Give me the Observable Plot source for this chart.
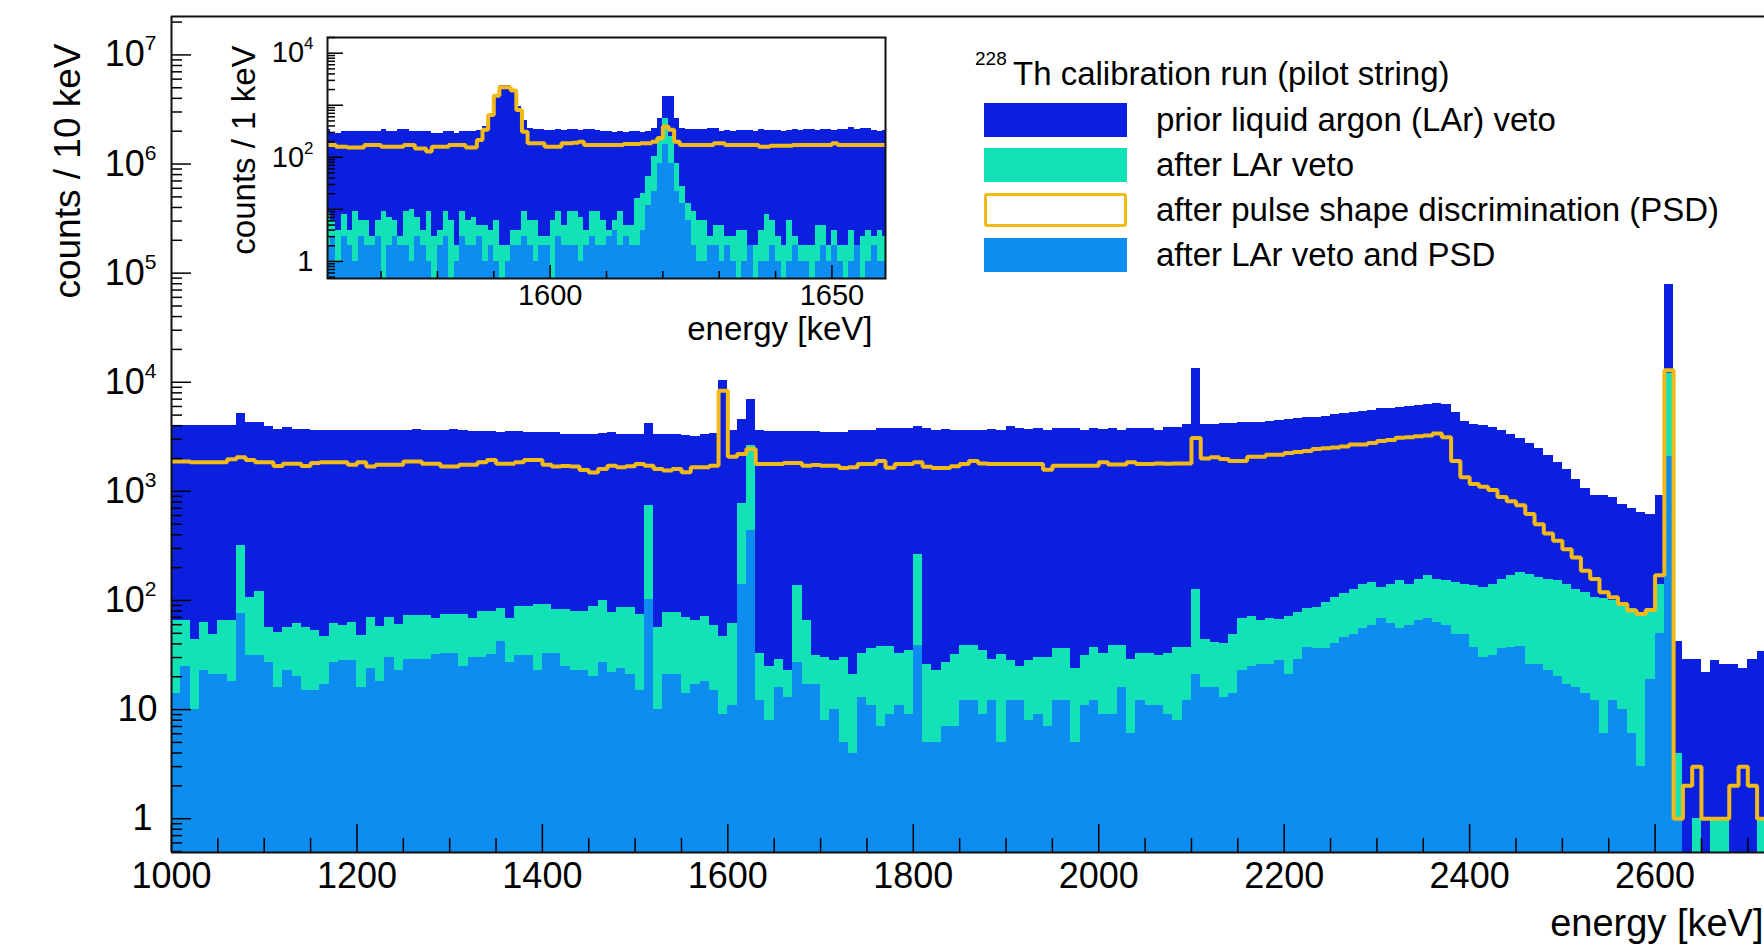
<!DOCTYPE html>
<html><head><meta charset="utf-8">
<script src="https://cdn.jsdelivr.net/npm/d3@7"></script>
<script src="https://cdn.jsdelivr.net/npm/@observablehq/plot@0.6"></script>
<style>
html,body{margin:0;padding:0;background:#fff;}
#wrap{position:relative;width:1764px;height:948px;overflow:hidden;font-family:"Liberation Sans",Arial,Helvetica,sans-serif;color:#000;}
#main,#inset,#legend{position:absolute;top:0;}
#main{left:0;}
#inset{left:200px;}
#legend{left:0;}
.sw{position:absolute;left:984px;width:143px;height:34px;box-sizing:border-box;}
.lab{position:absolute;left:1156px;font-size:33px;line-height:34px;white-space:nowrap;}
</style></head>
<body><div id="wrap"><div id="main"></div><div id="inset"></div><div id="legend"></div></div>
<script>
// ---------------- data: main spectrum, 10 keV bins starting at 1000 keV ----------------
const mainStart = 1000, mainBinWidth = 10;
const mainPrior = [
4000,4050,3980,4020,3990,4010,4000,5150,4300,4250,
3900,3720,3850,3720,3700,3580,3600,3580,3600,3580,
3590,3580,3600,3580,3600,3580,3720,3640,3650,3640,
3700,3600,3520,3530,3520,3500,3520,3510,3500,3480,
3440,3450,3350,3340,3330,3340,3420,3450,3300,3300,
3300,4150,3300,3300,3300,3250,3170,3330,3400,10350,
3600,4520,6900,3600,3530,3540,3520,3530,3530,3520,
3470,3500,3470,3650,3650,3650,3740,3740,3740,3740,
3930,3740,3650,3660,3640,3650,3650,3640,3660,3650,
3920,3730,3720,3730,3600,3730,3740,3730,3600,3730,
3720,3740,3600,3730,3740,3730,3600,3810,3820,4090,
13300,4100,4120,4150,4200,4250,4300,4300,4350,4500,
4550,4700,4790,4790,4900,5100,5160,5300,5450,5500,
5700,5800,5850,5950,6100,6200,6400,6200,5270,4360,
4100,4050,3850,3620,3350,3080,2750,2450,2140,1850,
1570,1290,1070,920,910,870,765,695,640,615,
920,78000,42,29,29,22,28,26,26,24,
29,34];
const mainPSD = [
1875,1875,1850,1850,1850,1850,1970,2050,1940,1850,
1850,1710,1790,1790,1710,1820,1850,1850,1850,1750,
1850,1690,1750,1750,1750,1875,1875,1790,1790,1690,
1690,1750,1750,1850,1940,1790,1790,1850,1940,1940,
1750,1690,1710,1690,1570,1490,1600,1720,1660,1700,
1780,1720,1600,1550,1600,1500,1660,1660,1720,8380,
2080,2200,2450,1780,1780,1780,1820,1820,1720,1740,
1720,1720,1640,1660,1780,1780,1900,1650,1780,1780,
1850,1680,1640,1640,1700,1780,1900,1800,1780,1780,
1780,1780,1780,1780,1580,1720,1720,1720,1720,1720,
1850,1760,1760,1850,1780,1780,1800,1790,1800,1800,
3090,2000,2050,1980,1900,1900,2080,2080,2170,2170,
2250,2300,2350,2440,2480,2520,2580,2690,2690,2780,
2900,2950,3100,3130,3200,3250,3390,3130,1900,1350,
1170,1100,1030,890,810,745,620,500,410,353,
295,248,187,157,119,107,93,81,75,82,
170,12900,1,2,3,1,1,1,2,3,
2,1];
const mainLAr = [
66,66,44,63,49,66,65,320,107,120,
56,51,56,61,56,53,47,61,59,63,
48,70,58,70,60,73,73,73,69,75,
75,74,69,79,79,85,69,88,88,91,
91,83,83,80,80,88,100,78,87,87,
75,740,57,78,78,70,65,71,59,47,
62,767,2630,33,25,29,23,137,65,31,
30,28,30,21,33,36,38,38,33,35,
265,26,23,27,32,39,39,35,29,32,
28,25,28,30,30,36,36,24,31,37,
33,39,39,29,33,33,31,33,37,37,
125,44,41,40,49,69,72,65,69,67,
72,78,84,87,96,107,116,127,141,146,
131,141,151,141,157,169,157,151,146,141,
137,132,140,157,169,181,173,163,157,151,
141,127,119,107,104,100,93,84,78,78,
140,12000,4,0,1,0,1,1,0,0,
0,1];
const mainBoth = [
14,25,10,23,21,21,18,76,31,31,
27,16,23,20,15,15,17,27,28,28,
16,24,18,30,23,29,29,29,32,33,
33,25,30,30,32,42,27,31,31,23,
33,33,25,23,23,20,27,22,24,21,
15,103,10,21,21,14,17,18,15,9,
11,141,437,12,8,16,13,27,17,17,
8,10,5,4,13,11,7,9,11,9,
39,5,5,7,7,12,12,9,12,5,
12,12,8,9,7,12,12,5,11,12,
9,9,16,6,12,11,11,9,8,12,
21,16,16,13,14,23,25,26,26,28,
21,29,37,36,36,40,46,49,55,59,
68,61,55,59,65,68,63,59,49,49,
37,30,31,36,37,38,26,26,23,20,
17,16,14,12,6,12,10,6,3,19,
50,2100,1,0,0,0,0,0,0,0,
0,0];

// ---------------- data: inset, 1 keV bins starting at 1560 keV ----------------
const insetStart = 1560, insetBinWidth = 1;
const insetPrior = [
345,290,290,310,310,310,310,310,310,310,
345,310,310,345,345,310,310,310,310,290,
290,310,310,290,310,310,310,330,390,700,
1600,2360,2360,1960,940,520,360,340,345,330,
330,345,330,345,345,330,345,345,330,310,
310,300,310,300,310,310,300,310,360,565,
1470,1470,565,360,335,335,335,335,360,360,
320,326,320,326,330,326,320,335,326,330,
326,320,326,335,330,335,335,330,335,335,
330,335,335,372,335,360,360,326,320,326];
const insetPSD = [
173,173,160,160,155,155,155,173,173,173,
160,160,160,160,173,173,148,148,129,160,
160,160,173,173,173,155,155,216,340,650,
1520,2220,2220,1920,810,310,186,186,186,160,
160,160,186,186,190,200,173,173,173,173,
173,173,173,180,180,180,186,186,200,232,
390,340,200,173,173,173,173,173,173,186,
186,173,173,173,173,173,173,160,160,166,
166,166,166,173,173,173,173,173,173,173,
186,173,173,173,173,173,173,173,173,173];
const insetLAr = [
9,6,4,8,4,9,6,6,3,6,
9,7,6,3,9,10,7,4,9,3,
4,9,6,2,9,6,7,5,5,4,
6,2,2,4,4,9,6,6,3,3,
6,9,5,9,9,7,4,9,9,6,
4,6,9,5,5,16,20,43,103,250,
565,250,76,27,13,9,6,6,3,5,
5,3,3,4,4,2,2,4,8,6,
3,2,6,3,2,2,2,5,5,2,
4,2,2,4,2,3,4,3,4,3];
const insetBoth = [
2,3,1,3,2,1,3,2,2,3,
0,2,3,2,2,1,3,2,1,0,
2,3,0,1,3,2,2,3,1,2,
1,0,1,2,2,3,2,1,2,2,
0,3,2,2,2,1,2,3,2,2,
3,4,2,3,2,2,4,12,22,76,
173,76,22,13,6,2,1,1,2,2,
1,2,1,0,1,2,0,1,1,2,
1,0,1,2,1,1,0,1,2,1,
2,1,0,1,2,0,1,2,1,1];

// ---------------- ticks & labels ----------------
const xTicksMain = [1000,1200,1400,1600,1800,2000,2200,2400,2600];
const yTicksMain = [1,10,100,1000,10000,100000,1000000,10000000];
const xTicksInset = [1600,1650];
const yTicksInset = [1,100,10000];
const yDecadesInset = [1,10,100,1000,10000];
const legendHeader = ["228", "Th calibration run (pilot string)"];
const legendLabels = ["prior liquid argon (LAr) veto","after LAr veto","after pulse shape discrimination (PSD)","after LAr veto and PSD"];
const C = {prior:"#0b20df", lar:"#12e2b6", both:"#0d8def", psd:"#f2ba18"};
const FONT = '"Liberation Sans", Arial, Helvetica, sans-serif';

function rowsOf(start, w, prior, lar, psd, both) {
  return prior.map((v,i) => ({x1: start + i*w, x2: start + (i+1)*w, prior: v, lar: lar[i], psd: psd[i], both: both[i]}));
}
function histMarks(rows, base, clip) {
  const last = rows[rows.length-1];
  const pts = rows.map(d => ({x: d.x1, v: d.psd})).concat([{x: last.x2, v: last.psd}]);
  const common = {x1:"x1", x2:"x2", y1: base, shapeRendering:"crispEdges", clip};
  return [
    Plot.rectY(rows, {...common, filter: d => d.prior > 0, y2: "prior", fill: C.prior}),
    Plot.rectY(rows, {...common, filter: d => d.lar > 0, y2: "lar", fill: C.lar}),
    Plot.rectY(rows, {...common, filter: d => d.both > 0, y2: "both", fill: C.both}),
    Plot.line(pts, {x:"x", y:"v", curve:"step-after", stroke: C.psd, strokeWidth: 4, strokeLinejoin:"miter", strokeLinecap:"butt", clip})
  ];
}
const supFmt = d => { const e = Math.round(Math.log10(d)); return e === 0 ? "1" : e === 1 ? "10" : "10^" + e; };
function minorLog(domain) {
  const out = [];
  for (let k = -2; k <= 8; k++) for (let m = 2; m <= 9; m++) { const v = m * Math.pow(10, k); if (v >= domain[0] && v <= domain[1]) out.push(v); }
  return out;
}
function supify(svg, supSize, supDy, shifts) {
  d3.select(svg).selectAll("text").each(function() {
    const t = this.textContent;
    if (/^10\^\d+$/.test(t)) {
      const [b, e] = t.split("^");
      const s = d3.select(this); s.text(null);
      s.append("tspan").text(b);
      s.append("tspan").attr("dy", supDy).attr("font-size", supSize).text(e);
    } else if (shifts && shifts[t] !== undefined && this.closest('[aria-label="y-axis tick label"]')) {
      d3.select(this).attr("dx", shifts[t]);
    }
  });
}

// ---------------- main plot ----------------
const yMainDomain = [0.49, 2.25e7];
const mainRows = rowsOf(mainStart, mainBinWidth, mainPrior, mainLAr, mainPSD, mainBoth);
const xMinorMain = d3.range(1050, 2718, 50).filter(v => v % 200 !== 0);
const mainPlot = Plot.plot({
  width: 1764, height: 948, marginLeft: 171, marginRight: 0, marginTop: 16, marginBottom: 96,
  style: {fontFamily: FONT, background: "transparent", color: "#000"},
  x: {domain: [1000, 2718]},
  y: {type: "log", domain: yMainDomain},
  marks: [
    ...histMarks(mainRows, yMainDomain[0], false),
    Plot.axisY({ticks: yTicksMain, tickSize: 20, dx: 20, tickPadding: 15, tickFormat: supFmt, fontSize: 36, label: null, strokeWidth: 1.5}),
    Plot.axisY({ticks: minorLog(yMainDomain), tickSize: 11, dx: 11, tickFormat: () => "", label: null, strokeWidth: 1.5}),
    Plot.axisX({ticks: xTicksMain, tickSize: 28, dy: -28, tickPadding: 10, tickFormat: d3.format("d"), fontSize: 36, label: null, strokeWidth: 1.5}),
    Plot.axisX({ticks: xMinorMain, tickSize: 14, dy: -14, tickFormat: () => "", label: null, strokeWidth: 1.5}),
    Plot.ruleX([1000], {stroke: "#111", strokeWidth: 2}),
    Plot.ruleY(yMainDomain, {stroke: "#111", strokeWidth: 2}),
    Plot.text(["counts / 10 keV"], {text: d => d, frameAnchor: "top-left", rotate: -90, textAnchor: "end", lineAnchor: "middle", dx: -103, dy: 27, fontSize: 37}),
    Plot.text(["energy [keV]"], {text: d => d, frameAnchor: "bottom-right", textAnchor: "end", lineAnchor: "middle", dx: -1, dy: 71, fontSize: 38})
  ]
});
supify(mainPlot, "21px", "-16", {"1": -4, "10": 1});
document.getElementById("main").appendChild(mainPlot);

// ---------------- inset ----------------
const yInsetDomain = [0.47, 2e4];
const insetRows = rowsOf(insetStart, insetBinWidth, insetPrior, insetLAr, insetPSD, insetBoth);
const xMinorInset = d3.range(1570, 1660, 10).filter(v => !xTicksInset.includes(v));
const insetPlot = Plot.plot({
  width: 720, height: 350, marginLeft: 127, marginRight: 35, marginTop: 37, marginBottom: 72,
  style: {fontFamily: FONT, background: "transparent", color: "#000"},
  x: {domain: [1560.5, 1659.5]},
  y: {type: "log", domain: yInsetDomain},
  marks: [
    Plot.frame({fill: "white", stroke: null}),
    ...histMarks(insetRows, yInsetDomain[0], true),
    Plot.axisY({ticks: yDecadesInset, tickSize: 16, dx: 16, tickFormat: () => "", label: null, strokeWidth: 1.5}),
    Plot.axisY({ticks: minorLog(yInsetDomain), tickSize: 8, dx: 8, tickFormat: () => "", label: null, strokeWidth: 1.5}),
    Plot.axisY({ticks: yTicksInset, tickSize: 0, tickPadding: 14, tickFormat: supFmt, fontSize: 29, label: null}),
    Plot.axisX({ticks: xTicksInset, tickSize: 13, dy: -13, tickPadding: 6, tickFormat: d3.format("d"), fontSize: 29, label: null, strokeWidth: 1.5}),
    Plot.axisX({ticks: xMinorInset, tickSize: 7, dy: -7, tickFormat: () => "", label: null, strokeWidth: 1.5}),
    Plot.frame({stroke: "#111", strokeWidth: 2}),
    Plot.text(["counts / 1 keV"], {text: d => d, frameAnchor: "top-left", rotate: -90, textAnchor: "end", lineAnchor: "middle", dx: -83, dy: 8, fontSize: 33}),
    Plot.text(["energy [keV]"], {text: d => d, frameAnchor: "bottom-right", textAnchor: "end", lineAnchor: "middle", dx: -13, dy: 51, fontSize: 33})
  ]
});
supify(insetPlot, "17px", "-13", null);
document.getElementById("inset").appendChild(insetPlot);

// ---------------- legend ----------------
const lg = document.getElementById("legend");
const sup = document.createElement("div");
sup.style.cssText = "position:absolute;left:975px;top:49px;font-size:19px;line-height:19px;";
sup.textContent = legendHeader[0]; lg.appendChild(sup);
const hd = document.createElement("div");
hd.className = "lab"; hd.style.left = "1013px"; hd.style.top = "57px";
hd.textContent = legendHeader[1]; lg.appendChild(hd);
const swStyle = [
  {background: C.prior}, {background: C.lar},
  {background: "#fff", border: "3px solid " + C.psd, borderRadius: "3px"}, {background: C.both}
];
const rowCenters = [120, 165, 210, 255];
legendLabels.forEach((t, i) => {
  const sw = document.createElement("div"); sw.className = "sw";
  sw.style.top = (rowCenters[i] - 17) + "px"; Object.assign(sw.style, swStyle[i]); lg.appendChild(sw);
  const lb = document.createElement("div"); lb.className = "lab";
  lb.style.top = (rowCenters[i] - 17) + "px"; lb.textContent = t; lg.appendChild(lb);
});
</script></body></html>
